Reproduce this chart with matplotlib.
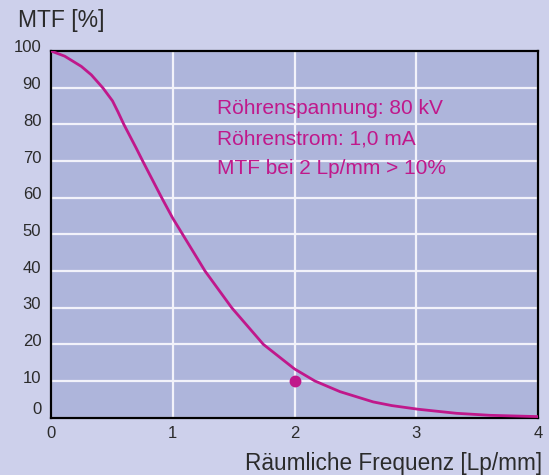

import matplotlib

matplotlib.use("Agg")
import matplotlib.pyplot as plt
import matplotlib.transforms as mtransforms

# Spatial frequency [Lp/mm] and MTF [%]
freq = [0.0, 0.112, 0.249, 0.331, 0.427, 0.505, 0.55, 0.598, 0.70, 0.753, 0.909,
        1.0, 1.081, 1.21, 1.265, 1.484, 1.744, 2.0, 2.168, 2.374, 2.647, 2.8,
        3.017, 3.33, 3.606, 4.0]
mtf = [100.0, 98.6, 95.8, 93.5, 89.9, 86.4, 83.4, 80.0, 73.5, 70.0, 60.0,
       54.4, 50.0, 43.0, 40.0, 30.0, 20.0, 13.3, 10.0, 7.1, 4.3, 3.3,
       2.3, 1.2, 0.65, 0.3]

# Requirement point: MTF at 2 Lp/mm
spec_freq = [2.0]
spec_mtf = [10.0]

x_ticks = [0, 1, 2, 3, 4]
y_ticks = [0, 10, 20, 30, 40, 50, 60, 70, 80, 90, 100]
notes = ["Röhrenspannung: 80 kV", "Röhrenstrom: 1,0 mA", "MTF bei 2 Lp/mm > 10%"]

BG = "#cdd0eb"
FACE = "#aeb5db"
MAGENTA = "#c0188b"
TEXT = "#2b2b2b"

plt.rcParams["font.family"] = ["Liberation Sans", "DejaVu Sans"]

fig = plt.figure(figsize=(5.49, 4.75), dpi=100, facecolor=BG)
ax = fig.add_axes([51 / 549, 1 - 417.7 / 475, 487 / 549, 366.7 / 475])
ax.set_facecolor(FACE)

ax.plot(freq, mtf, color=MAGENTA, lw=2.0, solid_joinstyle="round", zorder=3)
ax.plot(spec_freq, spec_mtf, "o", color=MAGENTA, ms=7.5, zorder=4)

ax.set_xlim(0, 4)
ax.set_ylim(0, 100)
ax.set_xticks(x_ticks)
ax.set_yticks(y_ticks)
ax.set_xticklabels([str(v) for v in x_ticks])
ax.set_yticklabels([str(v) for v in y_ticks])
ax.tick_params(length=0, labelsize=12, colors=TEXT)
ax.tick_params(axis="y", pad=7)
ax.tick_params(axis="x", pad=6)
ax.grid(True, color="#f2f2fa", lw=1.6)
ax.set_axisbelow(True)
for spine in ax.spines.values():
    spine.set_color("black")
    spine.set_linewidth(1.6)

# nudge y labels upward like in the original, the zero a bit more
for lab, val in zip(ax.get_yticklabels(), y_ticks):
    dy = 10 if val == 0 else 4.5
    lab.set_transform(lab.get_transform()
                      + mtransforms.ScaledTranslation(0, dy / 100, fig.dpi_scale_trans))

for i, line in enumerate(notes):
    ax.text(1.366, 82.8 - i * 8.18, line, color=MAGENTA, fontsize=15,
            va="baseline", ha="left", zorder=5)

fig.text(18 / 549, 1 - 27.5 / 475, "MTF [%]", fontsize=16.5, color=TEXT,
         va="baseline", ha="left")
fig.text(542.5 / 549, 1 - 470 / 475, "Räumliche Frequenz [Lp/mm]", fontsize=16.3,
         color=TEXT, va="baseline", ha="right")

fig.savefig("out.png", dpi=100, facecolor=BG)
